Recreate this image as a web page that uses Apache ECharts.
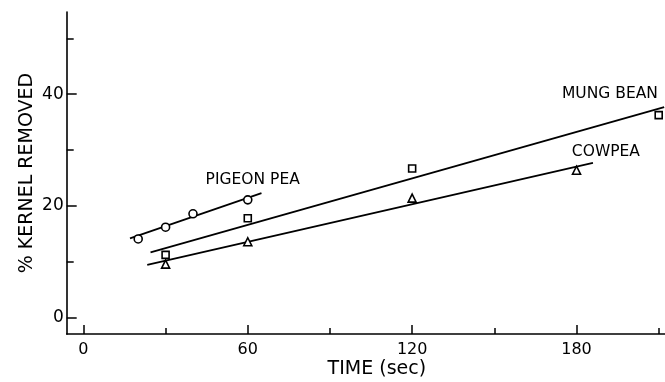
<!DOCTYPE html>
<html>
<head>
<meta charset="utf-8">
<script src="https://cdn.jsdelivr.net/npm/echarts@6/dist/echarts.min.js"></script>
<style>html,body{margin:0;padding:0;background:#fff}#c{width:665px;height:382px}</style>
</head>
<body>
<div id="c"></div>
<script>
// Data
const xMajorTicks = [0, 60, 120, 180];
const xMinorTicks = [30, 90, 150, 210];
const yMajorTicks = [0, 20, 40];
const yMinorTicks = [10, 30, 50];

const pigeonTime = [20, 30, 40, 60];
const pigeonVal = [14.1, 16.2, 18.6, 21.1];
const mungTime = [30, 60, 120, 210];
const mungVal = [11.25, 17.8, 26.7, 36.25];
const cowTime = [30, 60, 120, 180];
const cowVal = [9.6, 13.6, 21.4, 26.4];

const pigeonFitX = [17, 65];
const pigeonFitY = [14.2, 22.3];
const mungFitX = [24.5, 212];
const mungFitY = [11.7, 37.7];
const cowFitX = [23.3, 186];
const cowFitY = [9.46, 27.7];

const labelNames = ['PIGEON PEA', 'MUNG BEAN', 'COWPEA'];
const labelX = [44.6, 174.7, 178.3];
const labelY = [24.7, 40.05, 29.6];

const X_MIN = -6.1, X_MAX = 212.3, Y_MIN = -2.9, Y_MAX = 54.7;
const FONT = 'DejaVu Sans';
const INK = '#000';

const zip = (a, b) => a.map((v, i) => [v, b[i]]);

const chart = echarts.init(document.getElementById('c'), null, {renderer: 'canvas'});

const baseX = {
  type: 'value', min: X_MIN, max: X_MAX, position: 'bottom', splitLine: {show: false}
};
const baseY = {
  type: 'value', min: Y_MIN, max: Y_MAX, position: 'left', splitLine: {show: false}
};

const markerStyle = {color: '#fff', borderColor: INK, borderWidth: 1.6, opacity: 1};

chart.setOption({
  animation: false,
  backgroundColor: '#fff',
  grid: {left: 66.7, right: 0, top: 12, bottom: 48, containLabel: false, outerBoundsMode: 'none'},
  xAxis: [
    Object.assign({}, baseX, {
      axisLine: {show: true, onZero: false, lineStyle: {color: INK, width: 1.6}},
      axisTick: {show: true, inside: true, length: 9, customValues: xMajorTicks, lineStyle: {color: INK, width: 1.5}},
      axisLabel: {show: true, customValues: xMajorTicks, margin: 8, color: INK, fontFamily: FONT, fontSize: 16},
      name: 'TIME (sec)', nameLocation: 'middle', nameGap: 26, nameMoveOverlap: false,
      nameTextStyle: {color: INK, fontFamily: FONT, fontSize: 19, padding: [0, 0, 0, 22]}
    }),
    Object.assign({}, baseX, {
      axisLine: {show: false, onZero: false},
      axisTick: {show: true, inside: true, length: 6, customValues: xMinorTicks, lineStyle: {color: INK, width: 1.5}},
      axisLabel: {show: false}
    })
  ],
  yAxis: [
    Object.assign({}, baseY, {
      axisLine: {show: true, onZero: false, lineStyle: {color: INK, width: 1.6}},
      axisTick: {show: true, inside: true, length: 10, customValues: yMajorTicks, lineStyle: {color: INK, width: 1.5}},
      axisLabel: {show: true, customValues: yMajorTicks, margin: 3, color: INK, fontFamily: FONT, fontSize: 17},
      name: '% KERNEL REMOVED', nameLocation: 'middle', nameGap: 30, nameRotate: 90, nameMoveOverlap: false,
      nameTextStyle: {color: INK, fontFamily: FONT, fontSize: 19}
    }),
    Object.assign({}, baseY, {
      axisLine: {show: false, onZero: false},
      axisTick: {show: true, inside: true, length: 7, customValues: yMinorTicks, lineStyle: {color: INK, width: 1.5}},
      axisLabel: {show: false}
    })
  ],
  series: [
    {type: 'line', name: 'pigeonFit', data: zip(pigeonFitX, pigeonFitY), showSymbol: false, symbol: 'none',
     lineStyle: {color: INK, width: 1.8}, z: 2, silent: true},
    {type: 'line', name: 'mungFit', data: zip(mungFitX, mungFitY), showSymbol: false, symbol: 'none',
     lineStyle: {color: INK, width: 1.8}, z: 2, silent: true},
    {type: 'line', name: 'cowFit', data: zip(cowFitX, cowFitY), showSymbol: false, symbol: 'none',
     lineStyle: {color: INK, width: 1.8}, z: 2, silent: true},
    {type: 'scatter', name: 'PIGEON PEA', data: zip(pigeonTime, pigeonVal), symbol: 'circle', symbolSize: 8,
     itemStyle: markerStyle, z: 5},
    {type: 'scatter', name: 'MUNG BEAN', data: zip(mungTime, mungVal), symbol: 'rect', symbolSize: 7,
     itemStyle: markerStyle, z: 5},
    {type: 'scatter', name: 'COWPEA', data: zip(cowTime, cowVal), symbol: 'triangle', symbolSize: 8,
     itemStyle: markerStyle, z: 5},
    {type: 'scatter', name: 'labels', symbolSize: 0, silent: true, z: 6,
     itemStyle: {opacity: 1},
     data: labelNames.map((n, i) => ({value: [labelX[i], labelY[i]], name: n})),
     label: {show: true, position: 'right', distance: 0, formatter: p => p.name,
             color: INK, opacity: 1, fontFamily: FONT, fontSize: 15.5}}
  ]
});
</script>
</body>
</html>
